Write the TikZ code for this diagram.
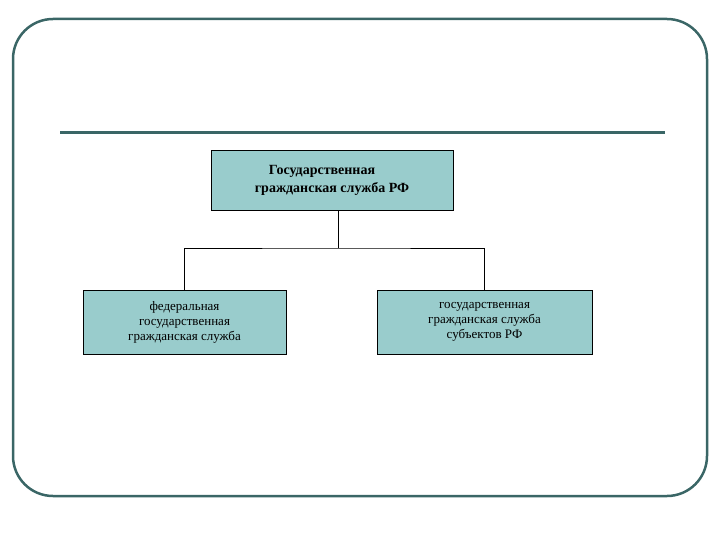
\documentclass[tikz,border=0pt]{standalone}
\usepackage{fontspec}
\setmainfont{Liberation Serif}
\definecolor{frame}{HTML}{3A6666}
\definecolor{boxfill}{HTML}{99CCCC}
\tikzset{org/.style={draw=black,fill=boxfill,line width=0.8pt,align=center,font=\fontsize{13}{15}\selectfont,inner sep=0pt},
conn/.style={draw=black,line width=0.6pt}}
\begin{document}
\begin{tikzpicture}[x=1pt,y=-1pt]
\useasboundingbox (0,0) rectangle (720,540);
\draw[frame,line width=2.5pt,rounded corners=40pt] (13,19) rectangle (707,496);
\draw[frame,line width=3pt] (60,133) -- (665,133);
\node[org,minimum width=242pt,minimum height=60pt,font=\bfseries\fontsize{14}{18}\selectfont] (top) at (332,180) {\hspace*{-20pt}Государственная\\гражданская служба РФ};
\node[org,minimum width=203pt,minimum height=64pt] (l) at (184.5,322) {федеральная\\государственная\\гражданская служба};
\node[org,minimum width=215pt,minimum height=64pt] (r) at (484.5,322) {государственная\\гражданская служба\\субъектов РФ};
\coordinate (j) at (338,248);
\draw[conn] (top.south -| j) -- (j);
\draw[conn] (l.north) |- (j) -| (r.north);
\end{tikzpicture}
\end{document}
